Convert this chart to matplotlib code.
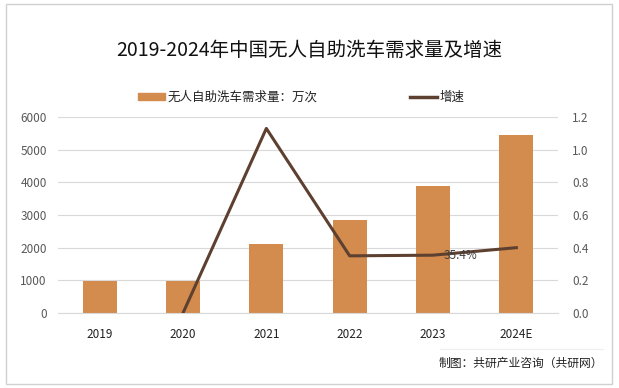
import matplotlib
matplotlib.use("Agg")
import matplotlib.pyplot as plt
from matplotlib.patches import Rectangle
from matplotlib.lines import Line2D

plt.rcParams['font.family'] = ['Noto Sans CJK SC', 'DejaVu Sans']

years = ['2019', '2020', '2021', '2022', '2023', '2024E']
demand = [980, 980, 2110, 2850, 3890, 5450]
growth = [None, 0.0, 1.13, 0.35, 0.354, 0.40]
left_ticks = [0, 1000, 2000, 3000, 4000, 5000, 6000]
right_ticks = [0.0, 0.2, 0.4, 0.6, 0.8, 1.0, 1.2]

bar_color = '#D38B4E'
line_color = '#5E4030'

fig = plt.figure(figsize=(6.19, 3.88), dpi=100)
ax = fig.add_axes([58/619, 1-313/388, 500/619, 196/388])
x = list(range(len(years)))
ax.bar(x, demand, width=0.41, color=bar_color, zorder=2)
ax.set_xlim(-0.5, len(years)-0.5)
ax.set_ylim(0, 6000)
ax.set_yticks(left_ticks)
ax.set_yticklabels([str(t) for t in left_ticks], fontsize=8.5, color='#595959')
ax.set_xticks(x)
ax.set_xticklabels(years, fontsize=8.5, color='#222222')
ax.grid(axis='y', color='#D9D9D9', linewidth=0.8, zorder=0)
for s in ['top', 'right', 'left']:
    ax.spines[s].set_visible(False)
ax.spines['bottom'].set_color('#D9D9D9')
ax.tick_params(axis='both', length=0, pad=8)
ax.tick_params(axis='x', pad=11)

ax2 = ax.twinx()
gx = [i for i, g in enumerate(growth) if g is not None]
gy = [g for g in growth if g is not None]
ax2.plot(gx, gy, color=line_color, linewidth=2.2, zorder=3)
ax2.set_ylim(0, 1.2)
ax2.set_yticks(right_ticks)
ax2.set_yticklabels([f'{t:.1f}' for t in right_ticks], fontsize=8.5, color='#595959')
for s in ['top', 'right', 'left', 'bottom']:
    ax2.spines[s].set_visible(False)
ax2.tick_params(axis='y', length=0, pad=10)
ax2.annotate(f'{growth[4]*100:.1f}%', (4, growth[4]), xytext=(8, 0),
             textcoords='offset points', ha='left', va='center',
             fontsize=8.5, color='#404040', zorder=4)

fig.text(0.5, 1-50/388, '2019-2024年中国无人自助洗车需求量及增速', ha='center', va='center',
         fontsize=14, color='#111111')

# legend
fig.patches.append(Rectangle((138/619, 1-100/388), 27/619, 7/388, transform=fig.transFigure,
                             color=bar_color, figure=fig))
fig.text(168/619, 1-97/388, '无人自助洗车需求量：万次', ha='left', va='center', fontsize=9, color='#222222')
fig.lines.append(Line2D([410/619, 437/619], [1-97/388, 1-97/388], transform=fig.transFigure,
                        color=line_color, linewidth=2.5, figure=fig))
fig.text(440/619, 1-97/388, '增速', ha='left', va='center', fontsize=9, color='#222222')

fig.text(603/619, 1-363/388, '制图：共研产业咨询（共研网）', ha='right', va='center', fontsize=8.5, color='#222222')
fig.lines.append(Line2D([440/619, 603/619], [1-349/388, 1-349/388], transform=fig.transFigure,
                        color='#EEEEEE', linewidth=0.8, figure=fig))

fig.patches.append(Rectangle((6/619, 1-384/388), 606/619, 380/388, transform=fig.transFigure,
                             fill=False, edgecolor='#D0D0D0', linewidth=1, figure=fig))

fig.savefig('out.png', dpi=100)
